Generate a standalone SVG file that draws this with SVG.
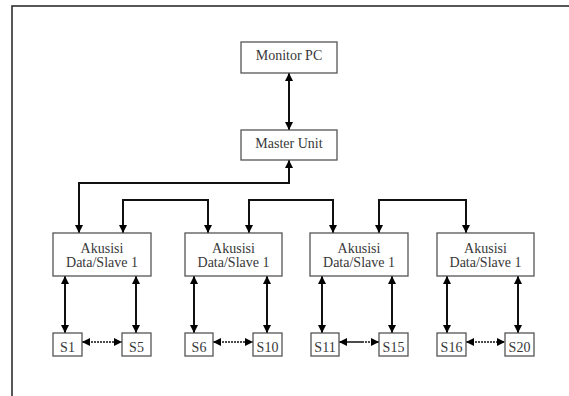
<svg xmlns="http://www.w3.org/2000/svg" width="569" height="396" viewBox="0 0 569 396">
<style>
.box{fill:#fff;stroke:#555;stroke-width:1.3}
.t{font-family:"Liberation Serif","Times New Roman",serif;font-size:14px;fill:#383838;text-anchor:middle}
.c{fill:none;stroke:#111;stroke-width:2}
.h{fill:none;stroke:#111;stroke-width:1.5}
.d{fill:none;stroke:#111;stroke-width:1.5;stroke-dasharray:2,1}
</style>
<defs>
<marker id="ah" viewBox="0 0 10 10" refX="10" refY="5" markerWidth="8" markerHeight="8" markerUnits="userSpaceOnUse" orient="auto-start-reverse">
<path d="M0,0 L10,5 L0,10 z" fill="#000"/>
</marker>
</defs>
<path d="M12,396 L12,6 L569,6" fill="none" stroke="#222" stroke-width="1.5"/>
<g id="connectors">
<line class="c" x1="289" y1="73" x2="289" y2="130" marker-start="url(#ah)" marker-end="url(#ah)"/>
<path class="c" d="M289,160 L289,183 L79,183 L79,233" marker-start="url(#ah)" marker-end="url(#ah)"/>
<path class="c" d="M123,233 L123,200 L208,200 L208,233" marker-start="url(#ah)" marker-end="url(#ah)"/>
<path class="c" d="M249,233 L249,200 L333,200 L333,233" marker-start="url(#ah)" marker-end="url(#ah)"/>
<path class="c" d="M379,233 L379,200 L466,200 L466,233" marker-start="url(#ah)" marker-end="url(#ah)"/>
<line class="c" x1="65" y1="276" x2="65" y2="333" marker-start="url(#ah)" marker-end="url(#ah)"/>
<line class="c" x1="136" y1="276" x2="136" y2="333" marker-start="url(#ah)" marker-end="url(#ah)"/>
<line class="c" x1="194" y1="276" x2="194" y2="333" marker-start="url(#ah)" marker-end="url(#ah)"/>
<line class="c" x1="267" y1="276" x2="267" y2="333" marker-start="url(#ah)" marker-end="url(#ah)"/>
<line class="c" x1="322" y1="276" x2="322" y2="333" marker-start="url(#ah)" marker-end="url(#ah)"/>
<line class="c" x1="392" y1="276" x2="392" y2="333" marker-start="url(#ah)" marker-end="url(#ah)"/>
<line class="c" x1="447" y1="276" x2="447" y2="333" marker-start="url(#ah)" marker-end="url(#ah)"/>
<line class="c" x1="518" y1="276" x2="518" y2="333" marker-start="url(#ah)" marker-end="url(#ah)"/>
<line class="d" x1="82" y1="342" x2="122" y2="342" marker-start="url(#ah)" marker-end="url(#ah)"/>
<line class="d" x1="213" y1="342" x2="253" y2="342" marker-start="url(#ah)" marker-end="url(#ah)"/>
<line class="h" x1="339" y1="342" x2="362" y2="342" marker-start="url(#ah)"/>
<line class="d" x1="362" y1="342" x2="379" y2="342" marker-end="url(#ah)"/>
<line class="d" x1="466" y1="342" x2="505" y2="342" marker-start="url(#ah)" marker-end="url(#ah)"/>
</g>
<g id="monitor"><rect class="box" x="241" y="42" width="96" height="31"/><text class="t" x="289" y="60">Monitor PC</text></g>
<g id="master"><rect class="box" x="241" y="130" width="96" height="30"/><text class="t" x="289" y="148">Master Unit</text></g>
<g id="slave1"><rect class="box" x="53" y="233" width="98" height="43"/><text class="t" x="102" y="253">Akusisi</text><text class="t" x="102" y="267">Data/Slave 1</text></g>
<g id="slave2"><rect class="box" x="185" y="233" width="97" height="43"/><text class="t" x="233.5" y="253">Akusisi</text><text class="t" x="233.5" y="267">Data/Slave 1</text></g>
<g id="slave3"><rect class="box" x="310" y="233" width="98" height="43"/><text class="t" x="359" y="253">Akusisi</text><text class="t" x="359" y="267">Data/Slave 1</text></g>
<g id="slave4"><rect class="box" x="437" y="233" width="97" height="43"/><text class="t" x="485.5" y="253">Akusisi</text><text class="t" x="485.5" y="267">Data/Slave 1</text></g>
<g id="s1"><rect class="box" x="53" y="333" width="29" height="23"/><text class="t" x="67.5" y="352">S1</text></g>
<g id="s5"><rect class="box" x="122" y="333" width="29" height="23"/><text class="t" x="136.5" y="352">S5</text></g>
<g id="s6"><rect class="box" x="185" y="333" width="28" height="23"/><text class="t" x="199" y="352">S6</text></g>
<g id="s10"><rect class="box" x="253" y="333" width="29" height="23"/><text class="t" x="267.5" y="352">S10</text></g>
<g id="s11"><rect class="box" x="311" y="333" width="28" height="23"/><text class="t" x="325" y="352">S11</text></g>
<g id="s15"><rect class="box" x="379" y="333" width="29" height="23"/><text class="t" x="393.5" y="352">S15</text></g>
<g id="s16"><rect class="box" x="437" y="333" width="29" height="23"/><text class="t" x="451.5" y="352">S16</text></g>
<g id="s20"><rect class="box" x="505" y="333" width="29" height="23"/><text class="t" x="519.5" y="352">S20</text></g>
</svg>
